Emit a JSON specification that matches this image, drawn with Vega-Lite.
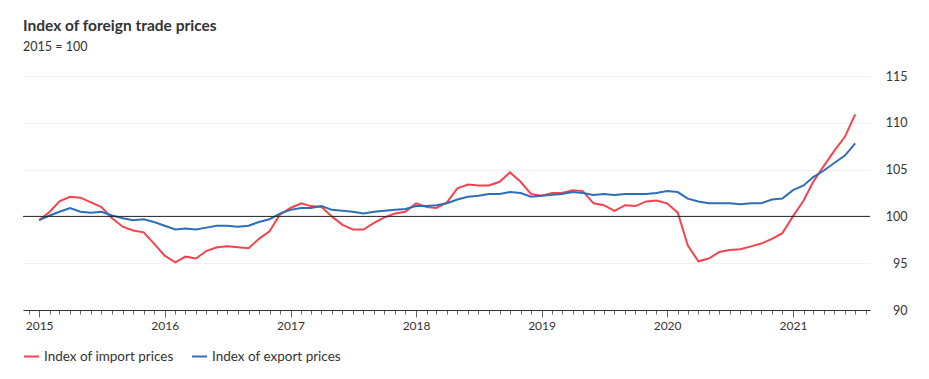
{
  "$schema": "https://vega.github.io/schema/vega-lite/v6.json",
  "width": 847,
  "height": 234,
  "autosize": "none",
  "padding": {"left": 23, "top": 76, "right": 59, "bottom": 69},
  "background": "white",
  "config": {
    "font": "Lato",
    "view": {"stroke": null}
  },
  "title": {
    "text": "Index of foreign trade prices",
    "subtitle": "2015 = 100",
    "anchor": "start",
    "frame": "group",
    "font": "Lato",
    "fontSize": 15.5,
    "fontWeight": "bold",
    "color": "#333333",
    "subtitleFont": "Lato",
    "subtitleFontSize": 12.5,
    "subtitleColor": "#333333",
    "subtitlePadding": 6,
    "offset": 17
  },
  "layer": [
    {
      "data": {
        "values": [
          {"date": "2015-01-01", "imp": 99.6, "exp": 99.6},
          {"date": "2015-02-01", "imp": 100.5, "exp": 100.1},
          {"date": "2015-03-01", "imp": 101.6, "exp": 100.5},
          {"date": "2015-04-01", "imp": 102.1, "exp": 100.9},
          {"date": "2015-05-01", "imp": 102.0, "exp": 100.5},
          {"date": "2015-06-01", "imp": 101.5, "exp": 100.4},
          {"date": "2015-07-01", "imp": 101.0, "exp": 100.5},
          {"date": "2015-08-01", "imp": 99.8, "exp": 100.1},
          {"date": "2015-09-01", "imp": 98.9, "exp": 99.8},
          {"date": "2015-10-01", "imp": 98.5, "exp": 99.6},
          {"date": "2015-11-01", "imp": 98.3, "exp": 99.7},
          {"date": "2015-12-01", "imp": 97.1, "exp": 99.4},
          {"date": "2016-01-01", "imp": 95.8, "exp": 99.0},
          {"date": "2016-02-01", "imp": 95.1, "exp": 98.6},
          {"date": "2016-03-01", "imp": 95.7, "exp": 98.7},
          {"date": "2016-04-01", "imp": 95.5, "exp": 98.6},
          {"date": "2016-05-01", "imp": 96.3, "exp": 98.8},
          {"date": "2016-06-01", "imp": 96.7, "exp": 99.0},
          {"date": "2016-07-01", "imp": 96.8, "exp": 99.0},
          {"date": "2016-08-01", "imp": 96.7, "exp": 98.9},
          {"date": "2016-09-01", "imp": 96.6, "exp": 99.0},
          {"date": "2016-10-01", "imp": 97.6, "exp": 99.4},
          {"date": "2016-11-01", "imp": 98.4, "exp": 99.7},
          {"date": "2016-12-01", "imp": 100.2, "exp": 100.3},
          {"date": "2017-01-01", "imp": 100.9, "exp": 100.7},
          {"date": "2017-02-01", "imp": 101.4, "exp": 100.9},
          {"date": "2017-03-01", "imp": 101.1, "exp": 100.9},
          {"date": "2017-04-01", "imp": 101.0, "exp": 101.1},
          {"date": "2017-05-01", "imp": 100.0, "exp": 100.7},
          {"date": "2017-06-01", "imp": 99.1, "exp": 100.6},
          {"date": "2017-07-01", "imp": 98.6, "exp": 100.5},
          {"date": "2017-08-01", "imp": 98.6, "exp": 100.3},
          {"date": "2017-09-01", "imp": 99.3, "exp": 100.5},
          {"date": "2017-10-01", "imp": 99.9, "exp": 100.6},
          {"date": "2017-11-01", "imp": 100.3, "exp": 100.7},
          {"date": "2017-12-01", "imp": 100.5, "exp": 100.8},
          {"date": "2018-01-01", "imp": 101.4, "exp": 101.1},
          {"date": "2018-02-01", "imp": 101.0, "exp": 101.1},
          {"date": "2018-03-01", "imp": 100.9, "exp": 101.2},
          {"date": "2018-04-01", "imp": 101.5, "exp": 101.4},
          {"date": "2018-05-01", "imp": 103.0, "exp": 101.8},
          {"date": "2018-06-01", "imp": 103.4, "exp": 102.1},
          {"date": "2018-07-01", "imp": 103.3, "exp": 102.2},
          {"date": "2018-08-01", "imp": 103.3, "exp": 102.4},
          {"date": "2018-09-01", "imp": 103.7, "exp": 102.4},
          {"date": "2018-10-01", "imp": 104.7, "exp": 102.6},
          {"date": "2018-11-01", "imp": 103.7, "exp": 102.5},
          {"date": "2018-12-01", "imp": 102.4, "exp": 102.1},
          {"date": "2019-01-01", "imp": 102.2, "exp": 102.2},
          {"date": "2019-02-01", "imp": 102.5, "exp": 102.3},
          {"date": "2019-03-01", "imp": 102.5, "exp": 102.4},
          {"date": "2019-04-01", "imp": 102.8, "exp": 102.6},
          {"date": "2019-05-01", "imp": 102.7, "exp": 102.5},
          {"date": "2019-06-01", "imp": 101.4, "exp": 102.3},
          {"date": "2019-07-01", "imp": 101.2, "exp": 102.4},
          {"date": "2019-08-01", "imp": 100.6, "exp": 102.3},
          {"date": "2019-09-01", "imp": 101.2, "exp": 102.4},
          {"date": "2019-10-01", "imp": 101.1, "exp": 102.4},
          {"date": "2019-11-01", "imp": 101.6, "exp": 102.4},
          {"date": "2019-12-01", "imp": 101.7, "exp": 102.5},
          {"date": "2020-01-01", "imp": 101.4, "exp": 102.7},
          {"date": "2020-02-01", "imp": 100.4, "exp": 102.6},
          {"date": "2020-03-01", "imp": 96.9, "exp": 101.9},
          {"date": "2020-04-01", "imp": 95.2, "exp": 101.6},
          {"date": "2020-05-01", "imp": 95.5, "exp": 101.4},
          {"date": "2020-06-01", "imp": 96.2, "exp": 101.4},
          {"date": "2020-07-01", "imp": 96.4, "exp": 101.4},
          {"date": "2020-08-01", "imp": 96.5, "exp": 101.3},
          {"date": "2020-09-01", "imp": 96.8, "exp": 101.4},
          {"date": "2020-10-01", "imp": 97.1, "exp": 101.4},
          {"date": "2020-11-01", "imp": 97.6, "exp": 101.8},
          {"date": "2020-12-01", "imp": 98.2, "exp": 101.9},
          {"date": "2021-01-01", "imp": 100.0, "exp": 102.8},
          {"date": "2021-02-01", "imp": 101.7, "exp": 103.3},
          {"date": "2021-03-01", "imp": 103.7, "exp": 104.2},
          {"date": "2021-04-01", "imp": 105.4, "exp": 104.9},
          {"date": "2021-05-01", "imp": 107.0, "exp": 105.7},
          {"date": "2021-06-01", "imp": 108.5, "exp": 106.5},
          {"date": "2021-07-01", "imp": 110.9, "exp": 107.8}
        ]
      },
      "transform": [
        {"fold": ["imp", "exp"], "as": ["series", "value"]}
      ],
      "mark": {"type": "line", "strokeWidth": 2, "interpolate": "linear"},
      "encoding": {
        "x": {
          "field": "date",
          "type": "temporal",
          "scale": {
            "type": "utc",
            "domain": [
              {"year": 2014, "month": 11, "date": 15, "utc": true},
              {"year": 2021, "month": 8, "date": 13, "utc": true}
            ]
          },
          "axis": {
            "title": null,
            "orient": "bottom",
            "tickCount": {"interval": "month", "step": 1},
            "labelExpr": "utcmonth(datum.value) == 0 ? utcFormat(datum.value, '%Y') : ''",
            "labelOverlap": false,
            "labelFlush": false,
            "labelFont": "Lato",
            "labelFontSize": 12,
            "labelColor": "#333333",
            "labelPadding": 3,
            "tickSize": {"condition": {"test": "utcmonth(datum.value) == 0", "value": 7}, "value": 4},
            "tickColor": "#666666",
            "domainColor": "#333333",
            "grid": false
          }
        },
        "y": {
          "field": "value",
          "type": "quantitative",
          "scale": {"domain": [90, 115], "nice": false, "zero": false},
          "axis": {
            "title": null,
            "orient": "right",
            "values": [90, 95, 100, 105, 110, 115],
            "domain": false,
            "ticks": false,
            "labelAlign": "right",
            "labelPadding": 37,
            "labelFont": "Lato",
            "labelFontSize": 12.5,
            "labelColor": "#333333",
            "grid": true,
            "gridColor": "#f0f0f0",
            "gridWidth": 1
          }
        },
        "color": {
          "field": "series",
          "type": "nominal",
          "scale": {"domain": ["imp", "exp"], "range": ["#f5444d", "#2e6fb4"]},
          "legend": {
            "title": null,
            "orient": "bottom",
            "direction": "horizontal",
            "offset": 17,
            "symbolType": "stroke",
            "symbolStrokeWidth": 2,
            "symbolSize": 225,
            "labelFont": "Lato",
            "labelFontSize": 13.5,
            "labelColor": "#333333",
            "columnPadding": 14,
            "labelExpr": "datum.value == 'imp' ? 'Index of import prices' : 'Index of export prices'"
          }
        }
      }
    },
    {
      "data": {"values": [{"ref": 100}]},
      "mark": {"type": "rule", "color": "#222222", "strokeWidth": 1},
      "encoding": {
        "y": {"field": "ref", "type": "quantitative"}
      }
    }
  ]
}
